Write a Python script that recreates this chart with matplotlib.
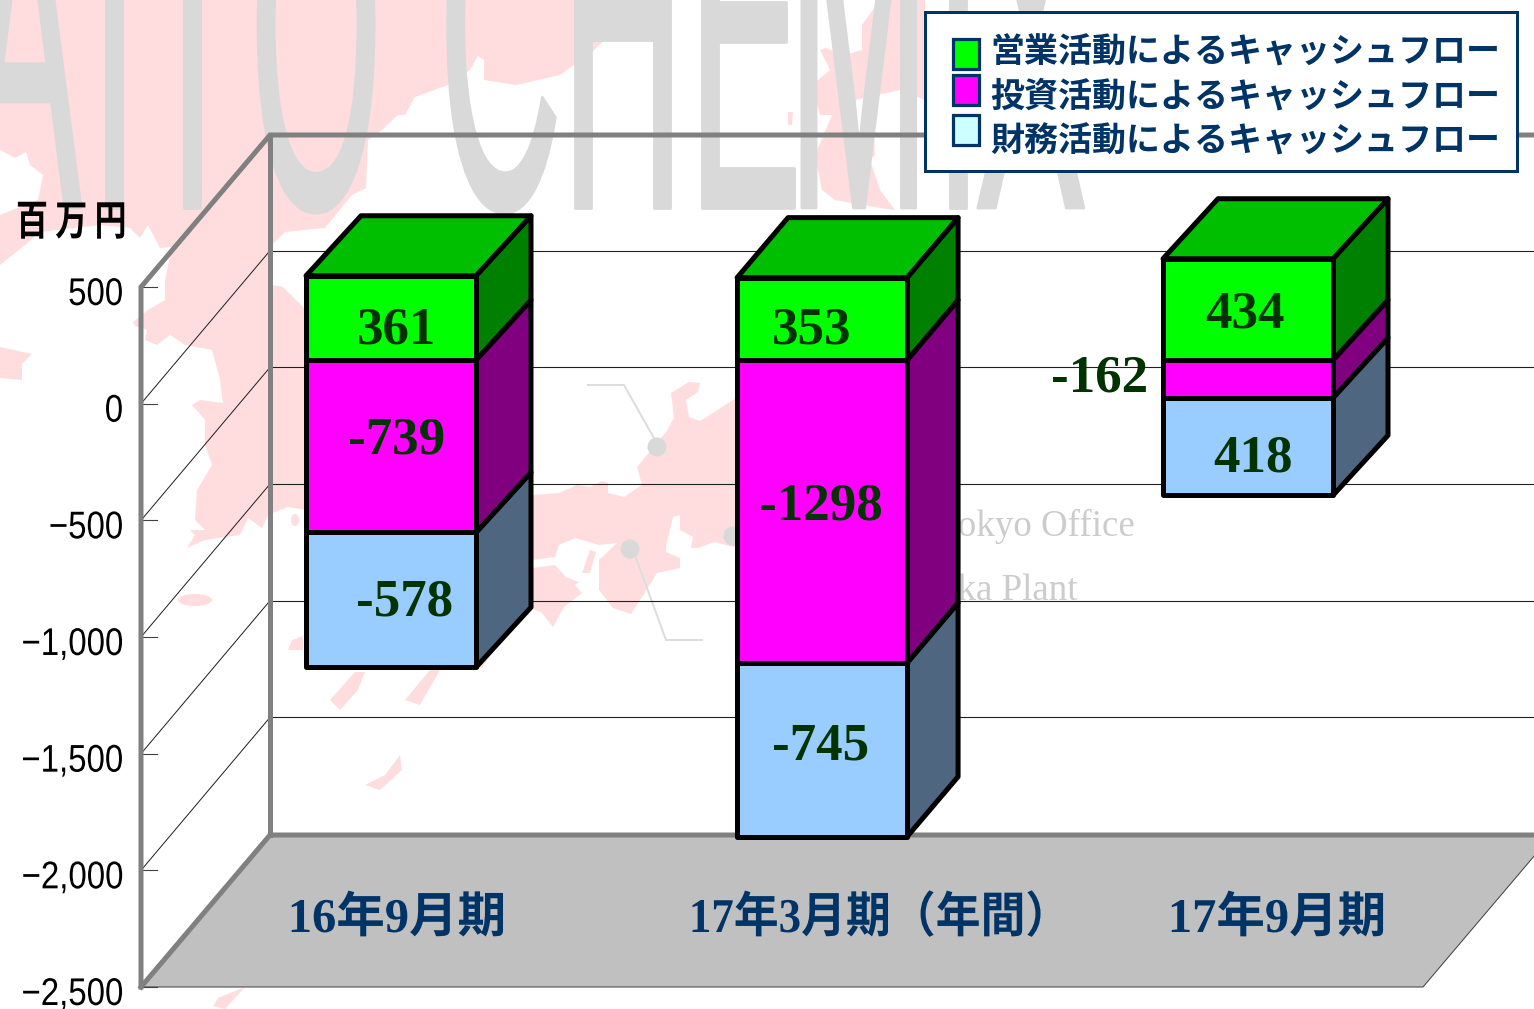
import matplotlib
matplotlib.use("Agg")
import matplotlib.pyplot as plt
from matplotlib.patches import Polygon, Rectangle, Ellipse
from matplotlib.patheffects import AbstractPathEffect
from matplotlib.transforms import Affine2D

# ---- data ----
categories = ["16年9月期", "17年3月期（年間）", "17年9月期"]
bar_slots = [0, 1.006, 2]
operating = [361, 353, 434]
investing = [-739, -1298, -162]
financing = [-578, -745, -418]
operating_labels = ["361", "353", "434"]
investing_labels = ["-739", "-1298", "-162"]
financing_labels = ["-578", "-745", "418"]
series_names = ["営業活動によるキャッシュフロー", "投資活動によるキャッシュフロー", "財務活動によるキャッシュフロー"]
y_ticks = [500, 0, -500, -1000, -1500, -2000, -2500]
unit = "百 万 円"

# ---- style ----
W, H = 1534, 1009
NAVY = "#003366"
DGREEN = "#003300"
PINK = "#FFDDDF"
WM = "#D9D9D9"
GRAY = "#808080"
px = 0.72  # points per pixel at dpi 100
CJK = "Noto Sans CJK JP"
SERIF = "Liberation Serif"


class Stretch(AbstractPathEffect):
    def __init__(self, sx=1.0, sy=1.0, stroke=0.0):
        super().__init__()
        self.sx, self.sy, self.stroke = sx, sy, stroke

    def draw_path(self, renderer, gc, tpath, affine, rgbFace=None):
        m = affine.get_matrix()
        e, f = m[0, 2], m[1, 2]
        extra = Affine2D().translate(-e, -f).scale(self.sx, self.sy).translate(e, f)
        if self.stroke:
            gc.set_linewidth(self.stroke)
            gc.set_foreground(rgbFace)
        renderer.draw_path(gc, tpath, affine + extra, rgbFace)


fig = plt.figure(figsize=(W / 100, H / 100), dpi=100, facecolor="white")


def pixel_axes(z):
    a = fig.add_axes([0, 0, 1, 1], zorder=z)
    a.set_xlim(0, W)
    a.set_ylim(H, 0)
    a.axis("off")
    a.patch.set_alpha(0)
    return a


ax = pixel_axes(1)
top = pixel_axes(3)

# ---- background picture: map ----
land = [
    [(0,0),(575,0),(592,30),(615,30),(592,52),(560,75),(516,85),(484,80),(484,60),(478,56),(470,70),(448,85),
     (415,97),(405,115),(398,115),(382,130),(368,140),(366,188),(352,195),(325,228),(285,232),(272,245),(268,265),
     (272,285),(283,287),(306,310),(306,510),(288,507),(268,515),(262,528),(248,518),(240,535),(205,540),(187,548),
     (195,535),(190,530),(205,530),(195,520),(197,490),(212,465),(205,445),(205,420),(192,405),(200,400),(223,403),
     (220,380),(212,350),(185,345),(170,335),(157,345),(145,340),(147,330),(135,326),(133,322),(148,310),(165,300),
     (165,280),(172,247),(160,248),(148,225),(140,238),(130,228),(100,225),(40,232),(25,245),(0,265),(0,215),
     (38,200),(43,175),(30,165),(26,152),(15,158),(0,150)],
    [(500,495),(532,495),(559,493),(577,485),(590,487),(602,481),(608,483),(608,493),(624,497),(642,485),(637,467),
     (666,432),(674,418),(671,393),(689,382),(700,383),(698,392),(686,400),(689,417),(700,421),(733,400),(745,390),
     (745,545),(733,547),(715,542),(698,548),(691,548),(693,537),(680,530),(680,515),(673,517),(666,547),(666,552),
     (680,558),(680,568),(657,573),(642,597),(631,614),(613,608),(599,590),(599,560),(617,543),(599,545),(575,538),
     (559,545),(555,557),(532,560),(500,560)],
    [(500,568),(532,568),(555,565),(566,577),(579,582),(575,585),(582,593),(564,607),(553,627),(541,612),(520,605),(500,600)],
    [(590,550),(596,552),(590,573),(582,573)],
    [(862,50),(845,55),(826,48),(820,50),(830,70),(812,85),(820,115),(832,115),(815,155),(822,190),(835,200),(880,208),
     (895,210),(880,190),(870,160),(875,155),(874,135),(855,130),(855,100),(900,90),(925,100),(925,0),(880,0),(862,25)],
    [(0,347),(32,354),(22,364),(22,380),(0,378)],
    [(288,650),(292,640),(303,636),(303,650)],
    [(330,700),(355,672),(365,672),(358,690),(340,710)],
    [(405,700),(430,670),(440,670),(420,705)],
    [(365,785),(385,775),(400,755),(402,770),(380,790)],
    [(213,1006),(218,998),(245,987),(225,1009)],
    [(476,650),(490,655),(482,668),(476,668)],
    [(788,112),(793,112),(792,125),(788,125)],
]
for poly in land:
    ax.add_patch(Polygon(poly, closed=True, fc=PINK, ec="none", zorder=1))
ax.add_patch(Ellipse((195, 600), 34, 12, fc=PINK, ec="none", zorder=1))
ax.add_patch(Ellipse((295, 520), 8, 12, fc=PINK, ec="none", zorder=1))

# ---- background picture: watermark letters, tall and thin, cut by the top edge ----
wm_letters = list("AITOCHEMIX")
wm_x = [-32, 90, 140, 250, 439, 561, 688, 788, 934, 974]
for ch, x0 in zip(wm_letters, wm_x):
    ax.text(x0, 208, ch, fontsize=170 * px, family="Liberation Sans", color=WM, ha="left", va="baseline",
            zorder=2, path_effects=[Stretch(1.0, 3.1, stroke=2.0)])

# ---- background picture: office markers ----
ax.text(1135, 536, "Tokyo Office", fontsize=37 * px, family=SERIF, color="#CCCCCC", ha="right", va="baseline", zorder=2)
ax.text(1078, 600, "Osaka Plant", fontsize=37 * px, family=SERIF, color="#CCCCCC", ha="right", va="baseline", zorder=2)
ax.plot([588, 624, 655], [385, 385, 440], color="#DDDDDD", lw=2 * px, zorder=2)
ax.plot([636, 666, 702], [558, 640, 640], color="#DDDDDD", lw=2 * px, zorder=2)
for cx, cy in [(657, 447), (630, 549), (733, 536)]:
    ax.add_patch(Ellipse((cx, cy), 19, 19, fc=WM, ec="none", zorder=2))

# ---- chart box ----
scale = 700 / 3000


def front_y(v):
    return 287 + (500 - v) * scale


def back_y(v):
    return 135 + (500 - v) * scale


X_FRONT, X_BACK = 141, 270
X_FLOOR_R = 1423
ax.add_patch(Polygon([(X_FRONT, front_y(-2500)), (X_BACK, back_y(-2500)), (X_FLOOR_R + 129, back_y(-2500)),
                      (X_FLOOR_R, front_y(-2500))], closed=True, fc="#C0C0C0", ec="#404040", lw=1 * px, zorder=3))
for v in y_ticks[1:-1]:
    ax.plot([X_BACK, W], [back_y(v) - 1] * 2, color="#202020", lw=1.1 * px, zorder=3)
    ax.plot([X_FRONT, X_BACK], [front_y(v), back_y(v) - 1], color="#202020", lw=1 * px, zorder=3)
for v in y_ticks:
    ax.plot([X_FRONT, X_FRONT + 16], [front_y(v)] * 2, color="#404040", lw=1.1 * px, zorder=3)
    txt = f"{v:,}".replace("-", "\u2212")
    ax.text(123, front_y(v) + 18, txt, fontsize=33 * px, family="Liberation Sans", color="black", ha="right",
            va="baseline", zorder=5, path_effects=[Stretch(1.0, 1.17)])
wall = dict(color=GRAY, lw=5 * px, zorder=4, solid_capstyle="projecting", solid_joinstyle="miter")
ax.plot([X_FRONT, X_FRONT, X_BACK, W], [front_y(-2500), front_y(500), back_y(500), back_y(500)], **wall)
ax.plot([X_BACK, X_BACK], [back_y(500), back_y(-2500)], **wall)
ax.plot([X_FRONT, X_BACK, W], [front_y(-2500), back_y(-2500), back_y(-2500)], **wall)

ax.text(16, 235, unit, fontsize=32 * px, family=CJK, weight="bold", color="black", ha="left", va="baseline",
        zorder=5, path_effects=[Stretch(1.0, 1.3)])

# ---- bars, in value units ----
slot_px = 428.5
zero_x, zero_y = 391, 360
bar_ax = fig.add_axes([0, 0, 1, 1], zorder=2)
bar_ax.set_xlim(-zero_x / slot_px, (W - zero_x) / slot_px)
bar_ax.set_ylim((zero_y - H) / scale, zero_y / scale)
bar_ax.axis("off")
bar_ax.patch.set_alpha(0)
half = 85 / slot_px
depth_x_px = [55, 51, 55]
dy = 60 / scale
faces = {"op": ("#00FF00", "#008000"), "inv": ("#FF00FF", "#800080"), "fin": ("#99CCFF", "#4F6680")}
edge = dict(ec="black", lw=5 * px, joinstyle="round", closed=True)
for i, slot in enumerate(bar_slots):
    dx = depth_x_px[i] / slot_px
    a, b = slot - half, slot + half
    z0 = 0
    z1 = investing[i]
    z2 = investing[i] + financing[i]
    t = operating[i]
    segments = [(z1, z2, "fin"), (z0, z1, "inv"), (t, z0, "op")]
    for hi, lo, key in segments:
        f, s = faces[key]
        bar_ax.add_patch(Polygon([(b, lo), (b + dx, lo + dy), (b + dx, hi + dy), (b, hi)], fc=s, **edge))
    for hi, lo, key in segments:
        f, s = faces[key]
        bar_ax.add_patch(Polygon([(a, lo), (b, lo), (b, hi), (a, hi)], fc=f, **edge))
    bar_ax.add_patch(Polygon([(a, t), (b, t), (b + dx, t + dy), (a + dx, t + dy)], fc="#00BF00", **edge))

# ---- value labels, hand-placed as in the reference ----
label_centres = [
    (operating_labels, [(397, 327), (812, 327), (1245, 311)]),
    (investing_labels, [(397, 438), (821, 503), (1100, 376)]),
    (financing_labels, [(405, 600), (821, 743), (1253, 456)]),
]
for texts, places in label_centres:
    for s, (cx, cy) in zip(texts, places):
        top.text(cx, cy + 16, s, fontsize=53 * px, family=SERIF, weight="bold", color=DGREEN, ha="center", va="baseline")

# ---- category labels ----
for s, cx, sx in zip(categories, [397, 895, 1277], [1.0, 0.925, 1.0]):
    top.text(cx, 932, s, fontsize=48.5 * px, family=[SERIF, CJK], weight="bold", color=NAVY, ha="center", va="baseline",
             path_effects=[Stretch(sx, 1.0)])

# ---- legend ----
top.add_patch(Rectangle((925, 12), 592, 159, fc="white", ec=NAVY, lw=3 * px, zorder=5))
swatches = ["#00FF00", "#FF00FF", "#CCFFFF"]
for s, col, y0, ty in zip(series_names, swatches, [39, 75, 115], [49, 93, 138]):
    top.add_patch(Rectangle((953, y0), 26, 30, fc=col, ec=NAVY, lw=3.2 * px, zorder=6))
    top.text(990, ty + 13, s, fontsize=34 * px, family=CJK, weight="bold", color=NAVY, ha="left", va="baseline", zorder=6)

fig.savefig("out.png", dpi=100)
